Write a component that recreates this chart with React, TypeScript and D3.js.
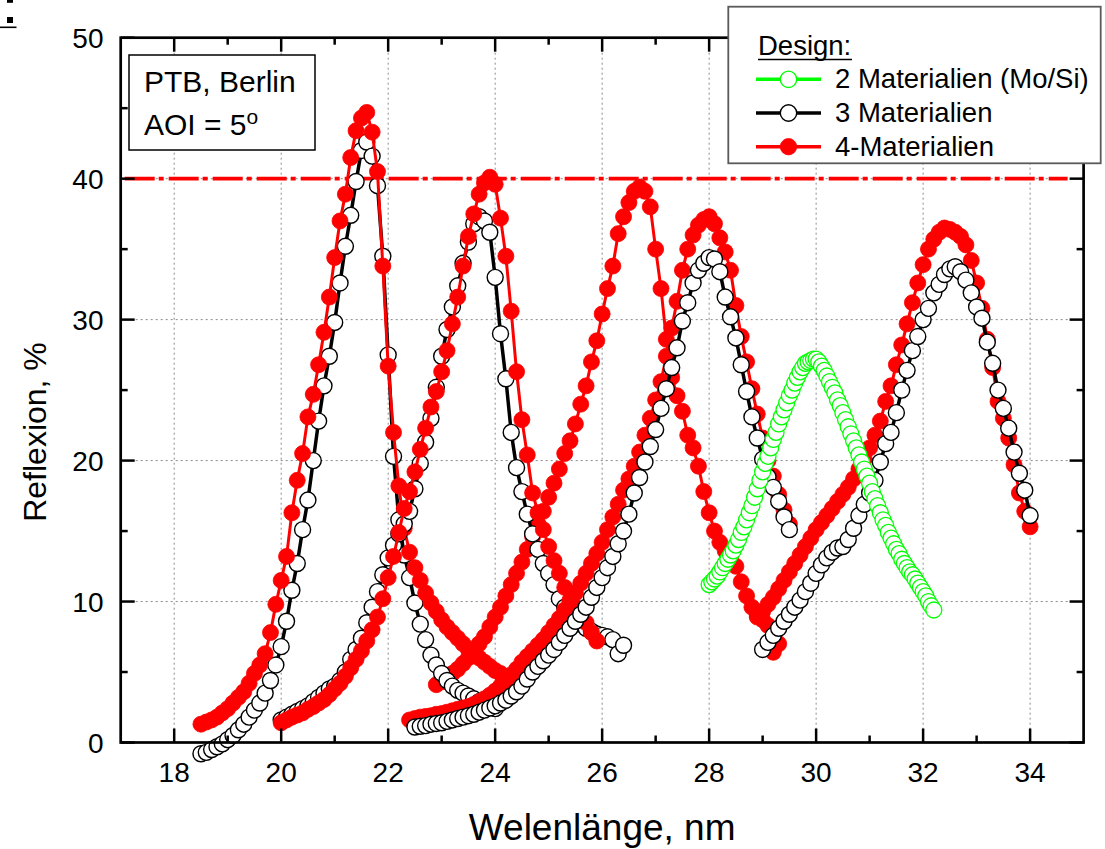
import React from 'react';
import * as d3 from 'd3';

const WIDTH = 1105;
const HEIGHT = 849;
const FONT = "'Liberation Sans', Arial, Helvetica, sans-serif";

// Axes
const xDomain = [17, 35];
const yDomain = [0, 50];
const xMajorTicks = [18, 20, 22, 24, 26, 28, 30, 32, 34];
const xMinorTicks = [19, 21, 23, 25, 27, 29, 31, 33];
const yMajorTicks = [0, 10, 20, 30, 40, 50];
const yMinorTicks = [5, 15, 25, 35, 45];
const targetLevel = 40;

const legendTitle = 'Design:';
const legendLabels = ['2 Materialien (Mo/Si)', '3 Materialien', '4-Materialien'];
const noteLines = ['PTB, Berlin', 'AOI = 5'];

// 2 materials (Mo/Si): 28.00–32.20 nm, 0.05 nm steps
const moSiStart = 28.0;
const moSiStep = 0.05;
const moSiR = [
  11.2, 11.4, 11.6, 11.8, 12.1, 12.4, 12.7, 13.0, 13.3, 13.6,
  14.0, 14.4, 14.9, 15.3, 15.8, 16.3, 16.8, 17.4, 18.0, 18.6,
  19.2, 19.8, 20.3, 20.9, 21.5, 22.0, 22.6, 23.1, 23.6, 24.1,
  24.6, 25.0, 25.5, 25.9, 26.3, 26.6, 26.9, 27.0, 27.1, 27.2,
  27.2, 27.0, 26.7, 26.4, 26.0, 25.6, 25.2, 24.8, 24.3, 23.9,
  23.4, 22.9, 22.4, 21.9, 21.4, 20.9, 20.4, 19.9, 19.4, 18.9,
  18.4, 17.8, 17.3, 16.8, 16.3, 15.8, 15.4, 14.9, 14.5, 14.1,
  13.7, 13.4, 13.0, 12.7, 12.4, 12.1, 11.9, 11.6, 11.3, 11.0,
  10.7, 10.4, 10.0, 9.7, 9.4,
];

// 3 materials: five mirrors, 0.1 nm steps
const step = 0.1;
const three1Start = 18.5;
const three1R = [
  -0.8, -0.7, -0.5, -0.3, -0.1, 0.2, 0.5, 0.9, 1.3, 1.8,
  2.3, 2.8, 3.5, 4.4, 5.5, 6.8, 8.6, 10.8, 12.7, 15.1,
  17.2, 20.0, 22.8, 25.3, 27.4, 29.8, 32.6, 35.2, 37.4, 39.8,
  42.0, 42.6, 41.6, 39.5, 34.5, 27.5, 20.3, 15.8, 13.3, 11.7,
  9.9, 8.4, 7.3, 6.2, 5.5, 4.9, 4.4, 4.0, 3.7, 3.5,
  3.3, 3.1, 2.9, 2.8, 2.6, 2.4,
];
const three2Start = 20.0;
const three2R = [
  1.6, 1.8, 2.0, 2.2, 2.4, 2.6, 2.9, 3.2, 3.5, 3.8,
  4.0, 4.4, 5.0, 5.9, 6.6, 7.4, 8.5, 9.6, 10.7, 11.9,
  13.1, 14.0, 14.8, 15.5, 16.4, 18.0, 19.8, 21.3, 23.0, 25.2,
  27.4, 29.3, 30.9, 32.4, 34.0, 35.5, 36.8, 37.3, 37.0, 36.2,
  33.0, 29.0, 25.8, 22.0, 19.5, 17.8, 16.2, 14.8, 13.7, 12.7,
  12.0, 11.2, 10.2, 9.6, 9.1, 8.7, 8.4, 8.1, 7.9, 7.7,
  7.6, 7.5, 7.3, 6.3, 6.9,
];
const three3Start = 22.5;
const three3R = [
  1.1, 1.15, 1.2, 1.3, 1.35, 1.4, 1.5, 1.6, 1.7, 1.8,
  1.9, 2.0, 2.15, 2.3, 2.45, 2.6, 2.8, 3.0, 3.3, 3.6,
  4.0, 4.5, 5.0, 5.4, 5.8, 6.2, 6.6, 7.1, 7.6, 8.1,
  8.6, 9.1, 9.6, 10.3, 11.0, 11.7, 12.4, 13.2, 14.1, 15.0,
  16.2, 17.7, 18.8, 19.9, 21.0, 22.2, 23.7, 25.1, 26.6, 28.0,
  29.9, 31.2, 32.6, 33.5, 34.0, 34.4, 34.3, 33.4, 31.6, 30.2,
  28.7, 26.8, 24.9, 23.1, 21.6, 20.1, 18.85, 18.1, 17.1, 16.0,
  15.1,
];
const three4Start = 29.0;
const three4R = [
  6.6, 7.1, 7.6, 8.1, 8.6, 9.1, 9.6, 10.1, 10.7, 11.3,
  12.0, 12.6, 13.1, 13.5, 13.8, 13.9, 14.4, 15.2, 16.1, 16.9,
  17.7, 18.6, 19.9, 21.2, 22.0, 23.4, 25.0, 26.4, 27.8, 28.8,
  30.0, 30.8, 31.9, 32.5, 33.2, 33.6, 33.75, 33.4, 32.8, 31.9,
  30.9, 30.1, 28.4, 26.9, 25.0, 23.7, 22.3, 20.6, 19.1, 17.9,
  16.1,
];

// 4 materials: five mirrors, 0.1 nm steps
const four1Start = 18.5;
const four1R = [
  1.3, 1.45, 1.6, 1.8, 2.1, 2.4, 2.8, 3.2, 3.6, 4.2,
  4.9, 5.5, 6.3, 7.8, 9.8, 11.5, 13.2, 16.3, 18.6, 20.5,
  23.1, 24.7, 26.8, 29.1, 31.6, 34.4, 37.0, 38.9, 41.5, 43.4,
  44.3, 44.7, 43.3, 40.5, 33.8, 26.7, 22.0, 18.2, 15.2, 13.5,
  12.4, 11.5, 10.6, 9.9, 9.3, 8.7, 8.2, 7.8, 7.4, 7.0,
  6.6, 6.3, 6.0, 5.7, 5.4, 5.1, 4.9, 4.6,
];
const four2Start = 20.0;
const four2R = [
  1.4, 1.6, 1.8, 1.95, 2.1, 2.35, 2.55, 2.8, 3.05, 3.4,
  3.8, 4.2, 4.7, 5.3, 5.9, 6.5, 7.2, 8.0, 8.9, 10.2,
  11.7, 13.2, 14.9, 16.6, 17.8, 19.2, 20.8, 22.3, 23.8, 24.9,
  26.3, 27.8, 29.7, 31.6, 33.8, 35.9, 37.5, 38.9, 39.7, 40.1,
  39.6, 37.2, 34.5, 30.6, 26.3, 22.9, 20.4, 17.7, 16.3, 15.1,
  13.9, 12.9, 12.0, 11.0, 10.1, 9.6, 9.1, 8.5, 7.8, 7.2,
];
const four3Start = 22.9;
const four3R = [
  4.1, 4.3, 4.6, 4.9, 5.2, 5.6, 6.0, 6.5, 7.0, 7.5,
  8.2, 8.9, 9.6, 10.4, 11.2, 12.0, 12.8, 13.7, 14.6, 15.5,
  16.4, 17.4, 18.4, 19.4, 20.5, 21.4, 22.6, 24.0, 25.3, 27.0,
  28.5, 30.4, 32.2, 33.8, 36.1, 37.3, 38.3, 39.1, 39.4, 39.1,
  38.0, 35.0, 32.2, 28.6, 25.9, 24.6, 23.5, 21.8, 20.9, 19.6,
  17.8, 16.3, 15.0, 14.2, 13.6, 13.0, 12.5, 11.4, 10.4, 9.6,
  9.0, 8.7, 8.3, 6.4, 7.0,
];
const four4Start = 22.4;
const four4R = [
  1.6, 1.7, 1.8, 1.85, 1.9, 2.0, 2.05, 2.15, 2.25, 2.35,
  2.45, 2.55, 2.7, 2.9, 3.1, 3.35, 3.65, 4.0, 4.4, 4.8,
  5.2, 5.7, 6.1, 6.5, 6.9, 7.3, 7.8, 8.3, 8.8, 9.4,
  10.0, 10.6, 11.3, 12.0, 12.7, 13.4, 14.2, 15.1, 16.0, 16.9,
  17.9, 18.7, 19.6, 20.6, 21.8, 23.0, 24.3, 25.6, 27.4, 29.4,
  31.3, 33.5, 35.0, 36.0, 36.7, 37.1, 37.3, 36.8, 35.8, 34.8,
  33.5, 31.0, 28.8, 27.0, 25.1, 23.3, 21.6, 20.0, 18.9, 17.6,
  16.5, 15.5,
];
const four5Start = 28.9;
const four5R = [
  8.9, 9.3, 9.8, 10.3, 10.9, 11.5, 12.1, 12.7, 13.3, 13.9,
  14.5, 15.1, 15.6, 16.1, 16.6, 17.1, 17.6, 18.1, 18.7, 19.4,
  20.1, 20.9, 21.8, 22.8, 24.2, 25.3, 26.8, 28.2, 29.7, 31.2,
  32.6, 33.9, 35.0, 35.7, 36.2, 36.5, 36.4, 36.2, 35.9, 35.3,
  34.2, 32.6, 30.8, 28.6, 26.6, 24.2, 23.0, 21.6, 19.7, 17.7,
  16.4, 15.3,
];

type Design = 'mosi' | 'three' | 'four';
type Scan = { design: Design; start: number; step: number; values: number[] };

// listed in painting order (later scans sit on top)
const scans: Scan[] = [
  { design: 'four', start: four3Start, step, values: four3R },
  { design: 'three', start: three1Start, step, values: three1R },
  { design: 'four', start: four1Start, step, values: four1R },
  { design: 'three', start: three2Start, step, values: three2R },
  { design: 'four', start: four2Start, step, values: four2R },
  { design: 'four', start: four4Start, step, values: four4R },
  { design: 'three', start: three3Start, step, values: three3R },
  { design: 'four', start: four5Start, step, values: four5R },
  { design: 'three', start: three4Start, step, values: three4R },
  { design: 'mosi', start: moSiStart, step: moSiStep, values: moSiR },
];

const styles: Record<Design, { line: string; lineWidth: number; fill: string; stroke: string; sw: number }> = {
  mosi: { line: '#00ff00', lineWidth: 2.5, fill: '#ffffff', stroke: '#00ff00', sw: 1.3 },
  three: { line: '#000000', lineWidth: 3.5, fill: '#ffffff', stroke: '#000000', sw: 1.4 },
  four: { line: '#ff0000', lineWidth: 3, fill: '#ff0000', stroke: '#ff0000', sw: 0.8 },
};
const legendDesigns: Design[] = ['mosi', 'three', 'four'];

const R = 8;

export default function App() {
  const left = 120.7;
  const right = 1083.6;
  const top = 37.7;
  const bottom = 742.5;
  const x = d3.scaleLinear().domain(xDomain).range([left, right]);
  const y = d3.scaleLinear().domain(yDomain).range([bottom, top]);
  const line = d3
    .line<[number, number]>()
    .x((d) => x(d[0]))
    .y((d) => y(d[1]));

  const tickW = 2.5;
  const major = 14;
  const minor = 7;

  return (
    <svg
      width={WIDTH}
      height={HEIGHT}
      style={{ position: 'absolute', left: 0, top: 0, background: '#fff' }}
      fontFamily={FONT}
    >
      {/* cropped mark in the corner */}
      <rect x={7} y={0} width={6} height={2.8} fill="#000" />
      <rect x={7} y={17} width={6} height={6} fill="#000" />
      <line x1={0} x2={16.5} y1={27.3} y2={27.3} stroke="#000" strokeWidth={1.6} />

      {/* grid */}
      <g stroke="#8a8a8a" strokeWidth={1} strokeDasharray="2,3">
        {xMajorTicks.map((t) => (
          <line key={'gx' + t} x1={x(t)} x2={x(t)} y1={top} y2={bottom} />
        ))}
        {yMajorTicks
          .filter((t) => t > yDomain[0] && t < yDomain[1])
          .map((t) => (
            <line key={'gy' + t} x1={left} x2={right} y1={y(t)} y2={y(t)} />
          ))}
      </g>

      {/* 40 % target level */}
      <line
        x1={left}
        x2={x(34.7)}
        y1={y(targetLevel)}
        y2={y(targetLevel)}
        stroke="#ff0000"
        strokeWidth={3.6}
        strokeDasharray="30,4,5,5"
        strokeDashoffset={-4}
      />

      {/* measured curves */}
      {scans.map((s, si) => {
        const st = styles[s.design];
        const pts: [number, number][] = s.values.map((v, i) => [s.start + i * s.step, v]);
        return (
          <g key={'scan' + si}>
            <path d={line(pts) || ''} fill="none" stroke={st.line} strokeWidth={st.lineWidth} strokeLinejoin="round" />
            {pts.map((p, i) => (
              <circle
                key={i}
                cx={x(p[0])}
                cy={y(p[1])}
                r={R}
                fill={st.fill}
                stroke={st.stroke}
                strokeWidth={st.sw}
              />
            ))}
          </g>
        );
      })}

      {/* frame */}
      <rect x={left} y={top} width={right - left} height={bottom - top} fill="none" stroke="#000" strokeWidth={2.7} />

      {/* ticks, pointing inward on all four sides */}
      <g stroke="#000" strokeWidth={tickW}>
        {xMajorTicks.map((t) => (
          <g key={'xt' + t}>
            <line x1={x(t)} x2={x(t)} y1={bottom} y2={bottom - major} />
            <line x1={x(t)} x2={x(t)} y1={top} y2={top + major} />
          </g>
        ))}
        {xMinorTicks.map((t) => (
          <g key={'xm' + t}>
            <line x1={x(t)} x2={x(t)} y1={bottom} y2={bottom - minor} />
            <line x1={x(t)} x2={x(t)} y1={top} y2={top + minor} />
          </g>
        ))}
        {yMajorTicks.map((t) => (
          <g key={'yt' + t}>
            <line x1={left} x2={left + major} y1={y(t)} y2={y(t)} />
            <line x1={right} x2={right - major} y1={y(t)} y2={y(t)} />
          </g>
        ))}
        {yMinorTicks.map((t) => (
          <g key={'ym' + t}>
            <line x1={left} x2={left + minor} y1={y(t)} y2={y(t)} />
            <line x1={right} x2={right - minor} y1={y(t)} y2={y(t)} />
          </g>
        ))}
      </g>

      {/* tick labels */}
      <g fontSize={28} fill="#000">
        {xMajorTicks.map((t) => (
          <text key={'xl' + t} x={x(t)} y={782} textAnchor="middle">
            {t}
          </text>
        ))}
        {yMajorTicks.map((t) => (
          <text key={'yl' + t} x={103.5} y={y(t) + 10} textAnchor="end">
            {t}
          </text>
        ))}
      </g>

      {/* axis titles */}
      <text x={(left + right) / 2} y={840} textAnchor="middle" fontSize={37} fill="#000">
        Welenlänge, nm
      </text>
      <text
        transform={`translate(46, ${432}) rotate(-90)`}
        textAnchor="middle"
        fontSize={32}
        fill="#000"
      >
        Reflexion, %
      </text>

      {/* note box */}
      <rect x={129} y={55} width={186} height={95} fill="#fff" stroke="#000" strokeWidth={1.5} />
      <text x={144} y={91.7} fontSize={30} fill="#000">
        {noteLines[0]}
      </text>
      <text x={144} y={135} fontSize={30} fill="#000">
        {noteLines[1]}
        <tspan fontSize={21} dy={-11}>
          o
        </tspan>
      </text>

      {/* legend */}
      <rect x={728.3} y={6.7} width={372.4} height={156.6} fill="#fff" stroke="#5a5a5a" strokeWidth={1.8} />
      <text x={758} y={55} fontSize={27.5} fill="#000">
        {legendTitle}
      </text>
      <line x1={758} x2={852} y1={59.5} y2={59.5} stroke="#000" strokeWidth={1.6} />
      {legendDesigns.map((d, i) => {
        const st = styles[d];
        const ly = 79.3 + i * 33.7;
        return (
          <g key={'lg' + d}>
            <line x1={756} x2={821} y1={ly} y2={ly} stroke={st.line} strokeWidth={3.4} />
            <circle cx={788.5} cy={ly} r={R + 0.2} fill={st.fill} stroke={st.stroke} strokeWidth={st.sw} />
            <text x={835} y={ly + 9} fontSize={27.5} fill="#000">
              {legendLabels[i]}
            </text>
          </g>
        );
      })}
    </svg>
  );
}
